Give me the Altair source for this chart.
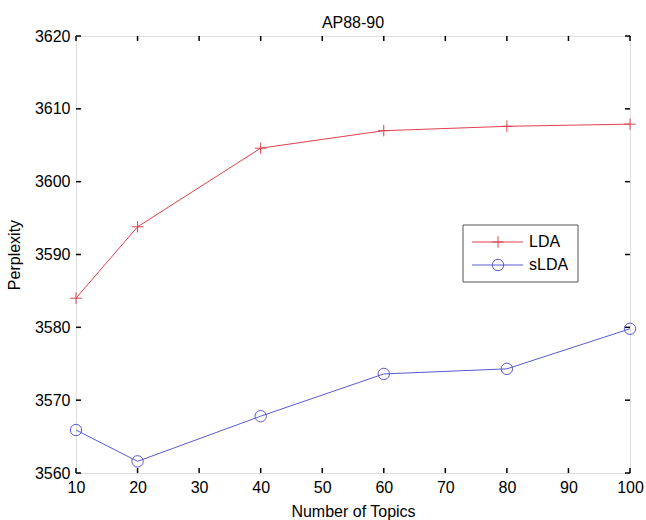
import altair as alt
import pandas as pd

# ---- data ----
topics = [10, 20, 40, 60, 80, 100]
lda = [3584.0, 3593.8, 3604.6, 3607.0, 3607.6, 3607.9]
slda = [3565.9, 3561.6, 3567.8, 3573.6, 3574.3, 3579.8]
series_names = ["LDA", "sLDA"]
series_colors = ["#e0404e", "#5a5ad2"]
x_ticks = [10, 20, 30, 40, 50, 60, 70, 80, 90, 100]
y_ticks = [3560, 3570, 3580, 3590, 3600, 3610, 3620]

FONT = "Liberation Sans"
W, H = 554, 437
PLUS = "M-1,0H1M0,-1V1"

df = pd.DataFrame({
    "x": topics * 2,
    "y": lda + slda,
    "series": [series_names[0]] * len(topics) + [series_names[1]] * len(topics),
})

xs = alt.Scale(domain=[10, 100], nice=False, zero=False)
ys = alt.Scale(domain=[3560, 3620], nice=False, zero=False)
cs = alt.Scale(domain=series_names, range=series_colors)
ss = alt.Scale(domain=series_names, range=[PLUS, "circle"])

x_axis = alt.Axis(values=x_ticks, ticks=False, domain=False, grid=False, format="d",
                  labelFlush=False, labelOverlap=False,
                  labelFont=FONT, labelFontSize=16, labelColor="black",
                  labelPadding=6, title="Number of Topics", titleFont=FONT,
                  titleFontSize=16, titleFontWeight="normal", titleColor="black",
                  titlePadding=8)
y_axis = alt.Axis(values=y_ticks, ticks=False, domain=False, grid=False, format="d",
                  labelFlush=False, labelOverlap=False,
                  labelFont=FONT, labelFontSize=16, labelColor="black",
                  labelPadding=6, title="Perplexity", titleFont=FONT,
                  titleFontSize=16, titleFontWeight="normal", titleColor="black",
                  titlePadding=12)

base = alt.Chart(df)
lines = base.mark_line(strokeWidth=1).encode(
    x=alt.X("x:Q", scale=xs, axis=x_axis),
    y=alt.Y("y:Q", scale=ys, axis=y_axis),
    color=alt.Color("series:N", scale=cs, legend=None),
)
points = base.mark_point(filled=False, strokeWidth=1, size=130, opacity=1).encode(
    x=alt.X("x:Q", scale=xs),
    y=alt.Y("y:Q", scale=ys),
    color=alt.Color("series:N", scale=cs, legend=None),
    shape=alt.Shape("series:N", scale=ss, legend=None),
)

xt = pd.DataFrame({"x": x_ticks})
yt = pd.DataFrame({"y": y_ticks})
tick_style = dict(color="black", strokeWidth=1.5)
xb = alt.Chart(xt).mark_rule(**tick_style).encode(
    x=alt.X("x:Q", scale=xs), y=alt.value(H), y2=alt.value(H - 5))
xtp = alt.Chart(xt).mark_rule(**tick_style).encode(
    x=alt.X("x:Q", scale=xs), y=alt.value(0), y2=alt.value(5))
yl = alt.Chart(yt).mark_rule(**tick_style).encode(
    y=alt.Y("y:Q", scale=ys), x=alt.value(0), x2=alt.value(5))
yr = alt.Chart(yt).mark_rule(**tick_style).encode(
    y=alt.Y("y:Q", scale=ys), x=alt.value(W - 5), x2=alt.value(W))

# ---- legend ----
one = pd.DataFrame({"a": [0]})
box = alt.Chart(one).mark_rect(fill="white", stroke="#555555", strokeWidth=1).encode(
    x=alt.value(387), x2=alt.value(502), y=alt.value(189), y2=alt.value(246))
legend_layers = [box]
for i, (name, col, shp) in enumerate(zip(series_names, series_colors, [PLUS, "circle"])):
    yy = 206 + i * 23
    d = pd.DataFrame({"name": [name]})
    legend_layers.append(alt.Chart(d).mark_rule(color=col, strokeWidth=1).encode(
        x=alt.value(396), x2=alt.value(447), y=alt.value(yy)))
    legend_layers.append(alt.Chart(d).mark_point(color=col, shape=shp, filled=False,
                                                 size=130, strokeWidth=1, opacity=1).encode(
        x=alt.value(422), y=alt.value(yy)))
    legend_layers.append(alt.Chart(d).mark_text(align="left", baseline="middle", font=FONT,
                                                fontSize=16, color="black").encode(
        x=alt.value(453), y=alt.value(yy), text="name:N"))

chart = alt.layer(lines, points, xb, xtp, yl, yr, *legend_layers).properties(
    width=W, height=H,
    title=alt.TitleParams("AP88-90", font=FONT, fontSize=16, fontWeight="normal",
                          color="black", offset=0, dy=3),
    autosize=alt.AutoSizeParams(type="none"),
    padding={"left": 76, "top": 36, "right": 16, "bottom": 47},
).configure_view(stroke="#8a8a8a", strokeWidth=1.5).configure(background="white")

chart.save("out.html", embed_options={"renderer": "svg", "actions": False})
